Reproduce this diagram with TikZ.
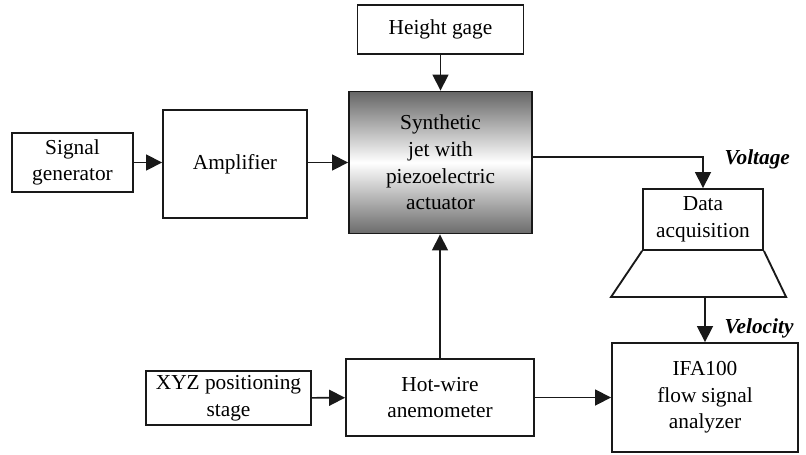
\documentclass[tikz,border=0pt]{standalone}
\usepackage{fontspec}
\setmainfont{Liberation Serif}
\usetikzlibrary{arrows.meta,positioning}
\tikzset{
	%Define standard arrow tip
	>={Triangle[length=12pt,width=12pt]},
	%Define style for boxes
	blokk/.style={
		rectangle,
		draw=black!90, line width=1.4pt,
		inner sep=2pt,
		align=center,
		font=\fontsize{16}{20}\selectfont},
	% Define arrow style
	pil/.style={
		->,
		line width=1.2pt,
		draw=black!90},
	% bold italic signal names
	signal/.style={
		anchor=west,
		font=\fontsize{16}{20}\selectfont\bfseries\itshape}
}
\begin{document}
\begin{tikzpicture}[x=0.75pt, y=-0.75pt]
		\useasboundingbox (0,0) rectangle (806,454);
		%nodes
		\node[blokk, minimum width=137.25pt, minimum height=106.5pt,
			top color=black!60, bottom color=black!58, middle color=white]
			(jet) at (440.5,162.5) {Synthetic\\jet with\\piezoelectric\\actuator};
		\node[blokk, minimum width=124.5pt, minimum height=36.75pt]
			(gage) at (440.5,29.5) {Height gage};
		\node[blokk, minimum width=108pt, minimum height=81pt]
			(amp) at (235,164) {Amplifier};
		\node[blokk, minimum width=90.75pt, minimum height=44.25pt]
			(siggen) at (72.5,162.5) {Signal\\generator};
		\node[blokk, minimum width=141pt, minimum height=57.75pt]
			(hotwire) at (440,397.5) {Hot-wire\\anemometer};
		\node[blokk, minimum width=123.75pt, minimum height=40.5pt]
			(xyz) at (228.5,398) {XYZ positioning\\stage};
		\node[blokk, minimum width=90pt, minimum height=45.75pt]
			(daq) at (703,219.5) {Data\\acquisition};
		\node[blokk, minimum width=139.5pt, minimum height=81.75pt]
			(ifa) at (705,397.5) {IFA100\\flow signal\\analyzer};
		% the screen part under the data acquisition box
		\draw[line width=1.4pt, draw=black!90] (daq.south west) -- ++(-31,46)
			-- ++(175,0) -- (daq.south east);
		\path (daq.south) ++(2,46) coordinate (skjerm);
		% connections
		\draw[pil] (gage.south) -- (gage.south |- jet.north);
		\draw[pil] (siggen.east) -- (siggen.east -| amp.west);
		\draw[pil] (amp.east |- jet.west) -- (jet.west);
		\draw[pil] ([yshift=4pt]jet.east) -| (daq.north);
		\draw[pil] (hotwire.north) -- (hotwire.north |- jet.south);
		\draw[pil] (xyz) -- (hotwire);
		\draw[pil] (hotwire) -- (ifa);
		\draw[pil] (skjerm) -- (ifa.north -| skjerm);
		% signal names
		\node[signal] (voltage) at (720,159) {Voltage};
		\node[signal] (velocity) at (720,328) {Velocity};
\end{tikzpicture}
\end{document}
